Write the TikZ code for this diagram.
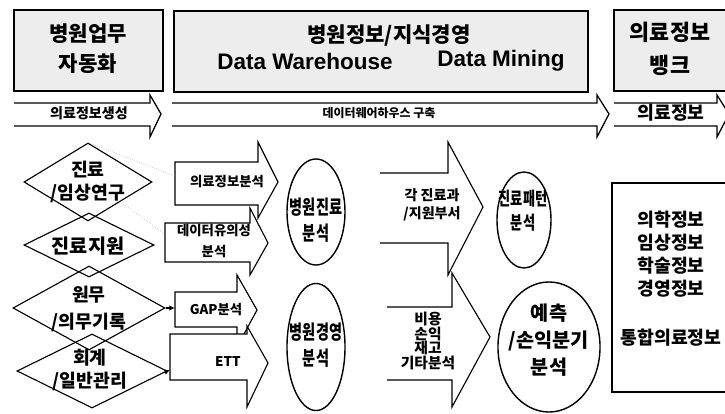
\documentclass[tikz,border=0pt]{standalone}
\usepackage{fontspec}
\usepackage{graphicx}
\setmainfont{Noto Sans CJK KR}
\setsansfont{Liberation Sans}
\usetikzlibrary{arrows.meta}
\usetikzlibrary{shapes.geometric}
\tikzset{>={Latex[width=1.4mm,length=1.4mm]}}

\tikzset{
  topbox/.style={draw=black, line width=1.3pt, fill=black!7},
  band/.style={line width=0.9pt},
  blk/.style={draw=black, line width=0.8pt, fill=white},
  dia/.style={draw, diamond, line width=0.8pt, inner sep=0pt},
  oval/.style={draw, ellipse, line width=1pt, inner sep=0pt},
  faint/.style={black!35, densely dotted, line width=0.4pt},
  ttl/.style={font=\bfseries\fontsize{15}{21.5}\selectfont, align=center, inner sep=0pt},
  bandtxt/.style={font=\bfseries\fontsize{10}{12}\selectfont, inner sep=0pt},
  diatxt/.style={font=\bfseries\fontsize{13}{16}\selectfont, align=center, inner sep=0pt},
  arrtxt/.style={font=\bfseries\fontsize{9.5}{15.5}\selectfont, align=center, inner sep=0pt},
  ovtxt/.style={font=\bfseries\fontsize{14}{18}\selectfont, align=center, inner sep=0pt},
  bigtxt/.style={font=\bfseries\fontsize{10.5}{10.6}\selectfont, align=center, inner sep=0pt},
  banktxt/.style={font=\bfseries\fontsize{13}{16.2}\selectfont, align=center, inner sep=0pt}
}
\newcommand{\narrow}[1]{\scalebox{0.72}[1]{#1}}

\begin{document}
\begin{tikzpicture}[x=0.025cm,y=-0.025cm]

  \useasboundingbox (0,0) rectangle (725,414);

  % top boxes
  \draw[topbox] (14,10) rectangle (163,91);
  \draw[topbox] (174,11) rectangle (588,92);
  \draw[topbox] (614,10) rectangle (735,91);

  \node[ttl] (auto) at (88,49) {병원업무\\자동화};
  \node[ttl] (kms) at (389,36) {병원정보/지식경영};
  \node[font=\sffamily\bfseries\fontsize{16}{18}\selectfont, inner sep=0pt] (dw) at (305,61) {Data Warehouse};
  \node[font=\sffamily\bfseries\fontsize{16}{18}\selectfont, inner sep=0pt] (dm) at (501,61) {Data Mining};
  \node[ttl, font=\bfseries\fontsize{15.5}{23}\selectfont] (bank) at (670,49) {의료정보\\뱅크};

  % band arrows
  \draw[band] (14,103) -- (150,103) -- (150,95) -- (161,114) -- (150,137) -- (150,126) -- (14,126);
  \draw[band] (172,103) -- (597,103) -- (597,95) -- (609,114) -- (597,137) -- (597,126) -- (172,126);
  \draw[band] (614,103) -- (717,103) -- (717,95) -- (729,114) -- (717,137) -- (717,126) -- (614,126);

  \node[bandtxt] (gen) at (89,113) {의료정보생성};
  \node[bandtxt, font=\bfseries\fontsize{8.5}{10}\selectfont] (build) at (379,113) {데이터웨어하우스 구축};
  \node[bandtxt, font=\bfseries\fontsize{13}{15}\selectfont] (info) at (671,113) {의료정보};

  % diamonds
  \node[dia, minimum width=3.2cm, minimum height=1.95cm] (d1) at (88,182) {};
  \node[dia, minimum width=3.25cm, minimum height=1.6cm] (d2) at (89,245) {};
  \node[dia, minimum width=3.8cm, minimum height=2.1cm] (d3) at (89,308) {};
  \node[dia, minimum width=3.75cm, minimum height=1.85cm] (d4) at (92,371) {};

  \node[diatxt] (d1t) at (88,182) {진료\\/임상연구};
  \node[diatxt, font=\bfseries\fontsize{14}{16}\selectfont] (d2t) at (88,246) {진료지원};
  \node[diatxt, font=\bfseries\fontsize{13}{19}\selectfont] (d3t) at (89,309) {원무\\/의무기록};
  \node[diatxt] (d4t) at (90,370) {회계\\/일반관리};

  % analysis arrows
  \draw[blk] (175,162) -- (258,162) -- (258,142) -- (278,182) -- (258,218) -- (258,205) -- (175,205) -- cycle;
  \draw[blk] (165,223) -- (250,223) -- (250,208) -- (268,243) -- (250,275) -- (250,262) -- (165,262) -- cycle;
  \draw[blk] (175,292) -- (237,292) -- (237,275) -- (257,310) -- (237,347) -- (237,327) -- (175,327) -- cycle;
  \draw[blk] (170,334) -- (247,334) -- (247,326) -- (268,363) -- (247,407) -- (247,380) -- (170,380) -- cycle;

  \node[arrtxt] (ana) at (227,182) {의료정보분석};
  \node[arrtxt] (sig) at (214,241) {데이터유의성\\분석};
  \node[arrtxt] (gap) at (216,310) {GAP분석};
  \node[arrtxt] (ett) at (228,362) {ETT};

  \coordinate (aA) at (175,176);
  \coordinate (aB) at (165,234);
  \coordinate (aC) at (175,308);
  \coordinate (aD) at (170,370);

  \draw[faint] (d1.north) -- (aA);
  \draw[faint] (d1.south east) -- (aB);
  \draw[->, line width=0.8pt] (d3.east) -- (aC);
  \draw[->, line width=0.8pt] (d4.east) -- (aD);

  % hospital analysis
  \node[oval, minimum width=1.45cm, minimum height=2.65cm] (care) at (316,212) {};
  \node[oval, minimum width=1.45cm, minimum height=3.175cm] (mgmt) at (316,347) {};
  \node[ovtxt] (caret) at (316,220) {\narrow{병원진료}\\\narrow{분석}};
  \node[ovtxt] (mgmtt) at (316,345) {\narrow{병원경영}\\\narrow{분석}};

  % big arrows
  \draw[blk] (380,173) -- (448,173) -- (448,142) -- (483,207) -- (448,275) -- (448,243) -- (380,243);
  \draw[blk] (387,307) -- (452,307) -- (452,273) -- (490,337) -- (452,407) -- (452,380) -- (387,380);

  \node[bigtxt, font=\bfseries\fontsize{10}{13}\selectfont] (dept) at (432,205) {각 진료과\\/지원부서};
  \node[bigtxt] (cost) at (428,341) {비용\\손익\\재고\\기타분석};

  % result
  \node[oval, minimum width=1.35cm, minimum height=2.4cm] (pat) at (524,220) {};
  \node[oval, minimum width=2.55cm, minimum height=3.25cm] (pred) at (549,347) {};
  \node[ovtxt, font=\bfseries\fontsize{13}{17}\selectfont] (patt) at (523,211) {\narrow{진료패턴}\\\narrow{분석}};
  \node[ovtxt, font=\bfseries\fontsize{14}{19}\selectfont] (predt) at (549,340) {예측\\/손익분기\\분석};

  % information bank
  \draw[line width=1.1pt] (612,183) rectangle (735,392);
  \node[banktxt] (banklist) at (671,279) {의학정보\\임상정보\\학술정보\\경영정보\\[19pt]통합의료정보};

\end{tikzpicture}
\end{document}
